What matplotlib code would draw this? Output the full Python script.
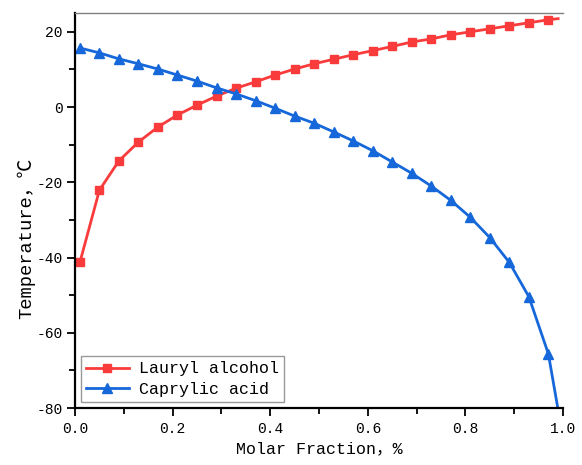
import numpy as np
import matplotlib
matplotlib.use("Agg")
import matplotlib.pyplot as plt
from matplotlib.ticker import MultipleLocator

plt.rcParams['font.family'] = ['Liberation Mono', 'Noto Sans CJK SC', 'DejaVu Sans']

# molar fraction of lauryl alcohol
x = [0.01, 0.05, 0.09, 0.13, 0.17, 0.21, 0.25, 0.29, 0.33, 0.37, 0.41, 0.45, 0.49,
     0.53, 0.57, 0.61, 0.65, 0.69, 0.73, 0.77, 0.81, 0.85, 0.89, 0.93, 0.97]
lauryl = [-41.3, -22.1, -14.3, -9.3, -5.3, -2.1, 0.5, 2.9, 5.0, 6.7, 8.5, 10.1, 11.5,
          12.7, 13.9, 15.0, 16.1, 17.3, 18.1, 19.2, 20.0, 20.8, 21.6, 22.4, 23.2]
caprylic = [15.7, 14.4, 12.8, 11.5, 10.1, 8.5, 6.9, 5.1, 3.5, 1.7, -0.3, -2.4, -4.3,
            -6.6, -9.0, -11.6, -14.6, -17.6, -21.0, -24.8, -29.3, -34.7, -41.3, -50.4, -65.6]
# where the curves run out past the last marker
x_end = 0.99
lauryl_end = 23.5
caprylic_end = -80.5

red = '#F93B3B'
blue = '#1668DA'

fig = plt.figure(figsize=(5.82, 4.65), dpi=100)
ax = fig.add_axes([75/582, 1-408/465, 488/582, 395/465])

n = len(x)
ax.plot(x + [x_end], lauryl + [lauryl_end], color=red, lw=2, marker='s', ms=6,
        markevery=list(range(n)), label='Lauryl alcohol')
ax.plot(x + [x_end], caprylic + [caprylic_end], color=blue, lw=2, marker='^', ms=7.5,
        markevery=list(range(n)), label='Caprylic acid')

ax.set_xlim(0, 1.0)
ax.set_ylim(-80, 25)
ax.xaxis.set_minor_locator(MultipleLocator(0.1))
ax.yaxis.set_minor_locator(MultipleLocator(10))
ax.set_xticks([0, 0.2, 0.4, 0.6, 0.8, 1.0])
ax.set_xticklabels(['0.0', '0.2', '0.4', '0.6', '0.8', '1.0'])
ax.set_yticks([-80, -60, -40, -20, 0, 20])
ax.set_yticklabels(['-80', '-60', '-40', '-20', '0', '20'])
ax.tick_params(which='major', direction='out', length=6, width=1.3, labelsize=10.5)
ax.tick_params(axis='x', pad=4)
ax.tick_params(axis='y', pad=3)
ax.tick_params(which='minor', direction='out', length=4, width=1.3)

for s in ['left', 'bottom']:
    ax.spines[s].set_linewidth(1.6)
ax.spines['top'].set_color('#808080')
ax.spines['top'].set_linewidth(1.0)
ax.spines['right'].set_visible(False)

ax.set_xlabel('Molar Fraction，%', fontsize=12)
ax.set_ylabel('Temperature，℃', fontsize=13.5)
ax.yaxis.set_label_coords(-0.082, 0.43)

leg = ax.legend(loc='lower left', fontsize=12, handlelength=2.6, frameon=True,
                fancybox=False, edgecolor='#808080', borderpad=0.3,
                labelspacing=0.35, borderaxespad=0.35, handletextpad=0.6)
leg.get_frame().set_linewidth(1.0)

fig.savefig('out.png', dpi=100)
